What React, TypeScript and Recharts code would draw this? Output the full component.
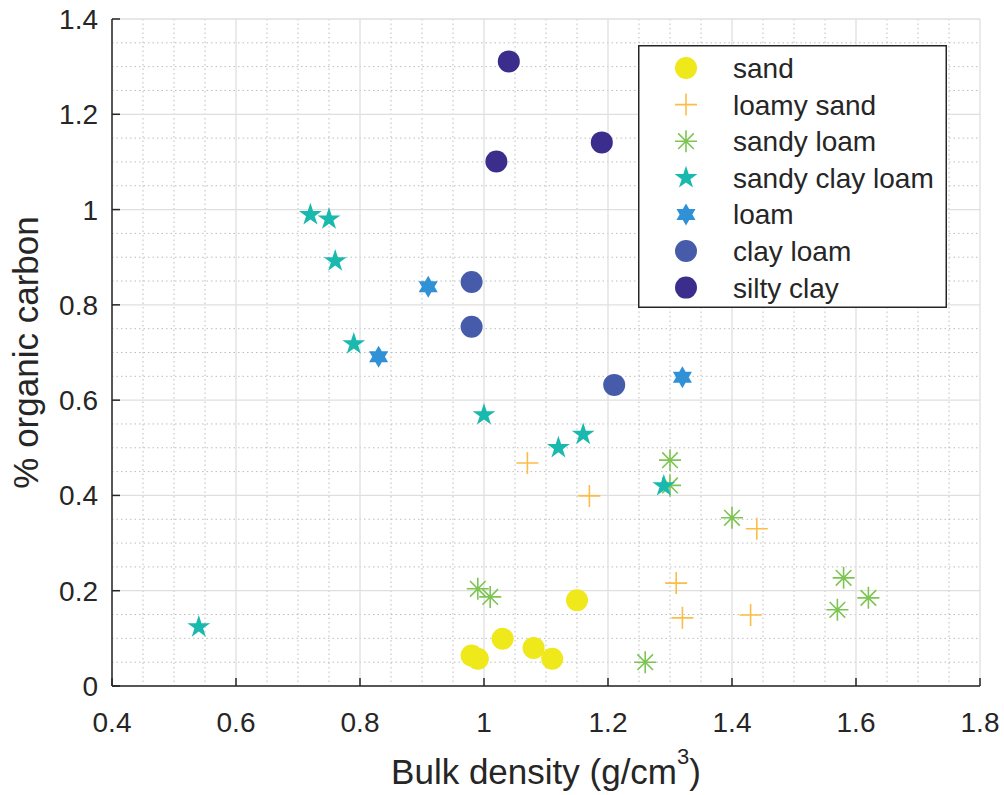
import { ScatterChart, Scatter, XAxis, YAxis, CartesianGrid, Legend, Label } from "recharts";

// bulk density (g/cm3) vs % organic carbon, one array per soil class
const sand = [
  { x: 0.98, y: 0.064 },
  { x: 0.99, y: 0.057 },
  { x: 1.03, y: 0.099 },
  { x: 1.08, y: 0.08 },
  { x: 1.11, y: 0.057 },
  { x: 1.15, y: 0.18 },
];
const loamySand = [
  { x: 1.07, y: 0.468 },
  { x: 1.17, y: 0.399 },
  { x: 1.31, y: 0.216 },
  { x: 1.32, y: 0.143 },
  { x: 1.43, y: 0.149 },
  { x: 1.44, y: 0.33 },
];
const sandyLoam = [
  { x: 0.99, y: 0.204 },
  { x: 1.01, y: 0.187 },
  { x: 1.26, y: 0.05 },
  { x: 1.3, y: 0.474 },
  { x: 1.3, y: 0.421 },
  { x: 1.4, y: 0.353 },
  { x: 1.57, y: 0.16 },
  { x: 1.58, y: 0.227 },
  { x: 1.62, y: 0.185 },
];
const sandyClayLoam = [
  { x: 0.54, y: 0.124 },
  { x: 0.72, y: 0.989 },
  { x: 0.75, y: 0.98 },
  { x: 0.76, y: 0.892 },
  { x: 0.79, y: 0.718 },
  { x: 1.0, y: 0.569 },
  { x: 1.12, y: 0.5 },
  { x: 1.16, y: 0.528 },
  { x: 1.29, y: 0.42 },
];
const loam = [
  { x: 0.83, y: 0.691 },
  { x: 0.91, y: 0.838 },
  { x: 1.32, y: 0.648 },
];
const clayLoam = [
  { x: 0.98, y: 0.848 },
  { x: 0.98, y: 0.754 },
  { x: 1.21, y: 0.632 },
];
const siltyClay = [
  { x: 1.04, y: 1.311 },
  { x: 1.02, y: 1.101 },
  { x: 1.19, y: 1.141 },
];

const xTicks = [0.4, 0.6, 0.8, 1, 1.2, 1.4, 1.6, 1.8];
const yTicks = [0, 0.2, 0.4, 0.6, 0.8, 1, 1.2, 1.4];
const xMinor = [
  0.45, 0.5, 0.55, 0.65, 0.7, 0.75, 0.85, 0.9, 0.95, 1.05, 1.1, 1.15, 1.25, 1.3, 1.35, 1.45, 1.5, 1.55,
  1.65, 1.7, 1.75,
];
const yMinor = [
  0.05, 0.1, 0.15, 0.25, 0.3, 0.35, 0.45, 0.5, 0.55, 0.65, 0.7, 0.75, 0.85, 0.9, 0.95, 1.05, 1.1, 1.15,
  1.25, 1.3, 1.35,
];

type MarkerKind = "circle" | "plus" | "asterisk" | "pentagram" | "hexagram";

const series: { name: string; data: { x: number; y: number }[]; color: string; marker: MarkerKind }[] = [
  { name: "sand", data: sand, color: "#EFE81A", marker: "circle" },
  { name: "loamy sand", data: loamySand, color: "#FCBD45", marker: "plus" },
  { name: "sandy loam", data: sandyLoam, color: "#7DC552", marker: "asterisk" },
  { name: "sandy clay loam", data: sandyClayLoam, color: "#1AB9AE", marker: "pentagram" },
  { name: "loam", data: loam, color: "#3191D6", marker: "hexagram" },
  { name: "clay loam", data: clayLoam, color: "#465BAA", marker: "circle" },
  { name: "silty clay", data: siltyClay, color: "#3A2D8C", marker: "circle" },
];

const INK = "#262626";
const FONT = '"Liberation Sans", Arial, Helvetica, sans-serif';

function starPoints(cx: number, cy: number, n: number, outer: number, inner: number) {
  const pts: string[] = [];
  for (let i = 0; i < n * 2; i++) {
    const a = (-90 + (i * 180) / n) * (Math.PI / 180);
    const r = i % 2 === 0 ? outer : inner;
    pts.push(`${cx + r * Math.cos(a)},${cy + r * Math.sin(a)}`);
  }
  return pts.join(" ");
}

function Marker({ kind, color, cx, cy }: { kind: MarkerKind; color: string; cx: number; cy: number }) {
  if (kind === "circle") return <circle cx={cx} cy={cy} r={11} fill={color} />;
  if (kind === "plus")
    return (
      <path d={`M${cx - 11},${cy}H${cx + 11}M${cx},${cy - 11}V${cy + 11}`} stroke={color} strokeWidth={1.6} fill="none" />
    );
  if (kind === "asterisk") {
    const d = 7.8;
    return (
      <path
        d={`M${cx - 11},${cy}H${cx + 11}M${cx},${cy - 11}V${cy + 11}M${cx - d},${cy - d}L${cx + d},${cy + d}M${cx - d},${cy + d}L${cx + d},${cy - d}`}
        stroke={color}
        strokeWidth={1.6}
        fill="none"
      />
    );
  }
  if (kind === "pentagram") return <polygon points={starPoints(cx, cy, 5, 12, 12 * 0.382)} fill={color} />;
  return <polygon points={starPoints(cx, cy, 6, 11, 11 / Math.sqrt(3))} fill={color} />;
}

function BottomTick({ x, y, payload }: any) {
  const axisY = y - 26;
  return (
    <g>
      <line x1={x} x2={x} y1={axisY} y2={axisY - 8} stroke={INK} strokeWidth={1.5} />
      <text x={x} y={y} dy="0.71em" textAnchor="middle" fontSize={28} fontFamily={FONT} fill={INK}>
        {String(payload.value)}
      </text>
    </g>
  );
}

function LeftTick({ x, y, payload }: any) {
  const axisX = x + 14;
  return (
    <g>
      <line x1={axisX} x2={axisX + 8} y1={y} y2={y} stroke={INK} strokeWidth={1.5} />
      <text x={x} y={y} dy="0.355em" textAnchor="end" fontSize={28} fontFamily={FONT} fill={INK}>
        {String(payload.value)}
      </text>
    </g>
  );
}

function TopTick({ x, y }: any) {
  return <line x1={x} x2={x} y1={y} y2={y + 8} stroke={INK} strokeWidth={1.5} />;
}

function RightTick({ x, y }: any) {
  return <line x1={x} x2={x - 8} y1={y} y2={y} stroke={INK} strokeWidth={1.5} />;
}

function XTitle({ viewBox }: any) {
  const cx = viewBox.x + viewBox.width / 2;
  return (
    <text x={cx} y={viewBox.y + 98} textAnchor="middle" fontSize={35} fontFamily={FONT} fill={INK}>
      Bulk density (g/cm
      <tspan fontSize={22} dy={-20}>
        3
      </tspan>
      <tspan dy={20}>)</tspan>
    </text>
  );
}

function YTitle({ viewBox }: any) {
  const bx = viewBox.x + 26;
  const cy = viewBox.y + viewBox.height / 2;
  return (
    <text
      x={bx}
      y={cy}
      transform={`rotate(-90 ${bx} ${cy})`}
      textAnchor="middle"
      fontSize={35}
      fontFamily={FONT}
      fill={INK}
    >
      % organic carbon
    </text>
  );
}

function LegendBox() {
  return (
    <svg width={309} height={263} style={{ display: "block" }}>
      <rect x={0.75} y={0.75} width={307.5} height={261.5} fill="#fff" stroke={INK} strokeWidth={1.5} />
      {series.map((s, i) => {
        const cy = 23 + i * 36.6;
        return (
          <g key={s.name}>
            <Marker kind={s.marker} color={s.color} cx={48} cy={cy} />
            <text x={95} y={cy} dy="0.36em" fontSize={28} fontFamily={FONT} fill={INK}>
              {s.name}
            </text>
          </g>
        );
      })}
    </svg>
  );
}

export default function App() {
  return (
    <div style={{ position: "absolute", left: 0, top: 0, background: "#fff" }}>
      <ScatterChart width={1004} height={795} margin={{ top: 19, right: 24, bottom: 49, left: 12 }}>
        <CartesianGrid
          verticalValues={xMinor}
          horizontalValues={yMinor}
          stroke="#bdbdbd"
          strokeDasharray="1.5 3"
          strokeWidth={1}
        />
        <CartesianGrid verticalValues={xTicks} horizontalValues={yTicks} stroke="#dfdfdf" strokeWidth={1.3} />
        <XAxis
          type="number"
          dataKey="x"
          domain={[0.4, 1.8]}
          ticks={xTicks}
          interval={0}
          height={60}
          tickSize={0}
          tickMargin={26}
          tickLine={false}
          tick={<BottomTick />}
          axisLine={{ stroke: INK, strokeWidth: 1.5 }}
        >
          <Label content={<XTitle />} />
        </XAxis>
        <XAxis
          xAxisId="top"
          orientation="top"
          type="number"
          domain={[0.4, 1.8]}
          ticks={xTicks}
          interval={0}
          height={0}
          tickSize={0}
          tickMargin={0}
          tickLine={false}
          tick={<TopTick />}
          axisLine={{ stroke: INK, strokeWidth: 1.5 }}
        />
        <YAxis
          type="number"
          dataKey="y"
          domain={[0, 1.4]}
          ticks={yTicks}
          interval={0}
          width={100}
          tickSize={0}
          tickMargin={14}
          tickLine={false}
          tick={<LeftTick />}
          axisLine={{ stroke: INK, strokeWidth: 1.5 }}
        >
          <Label content={<YTitle />} />
        </YAxis>
        <YAxis
          yAxisId="right"
          orientation="right"
          type="number"
          domain={[0, 1.4]}
          ticks={yTicks}
          interval={0}
          width={0}
          tickSize={0}
          tickMargin={0}
          tickLine={false}
          tick={<RightTick />}
          axisLine={{ stroke: INK, strokeWidth: 1.5 }}
        />
        {series.map((s) => (
          <Scatter
            key={s.name}
            name={s.name}
            data={s.data}
            fill={s.color}
            isAnimationActive={false}
            shape={(p: any) => <Marker kind={s.marker} color={s.color} cx={p.cx} cy={p.cy} />}
          />
        ))}
        <Legend
          layout="vertical"
          align="center"
          verticalAlign="middle"
          content={() => <LegendBox />}
          wrapperStyle={{ left: 638, top: 45, width: 309, height: 263 }}
        />
      </ScatterChart>
    </div>
  );
}
